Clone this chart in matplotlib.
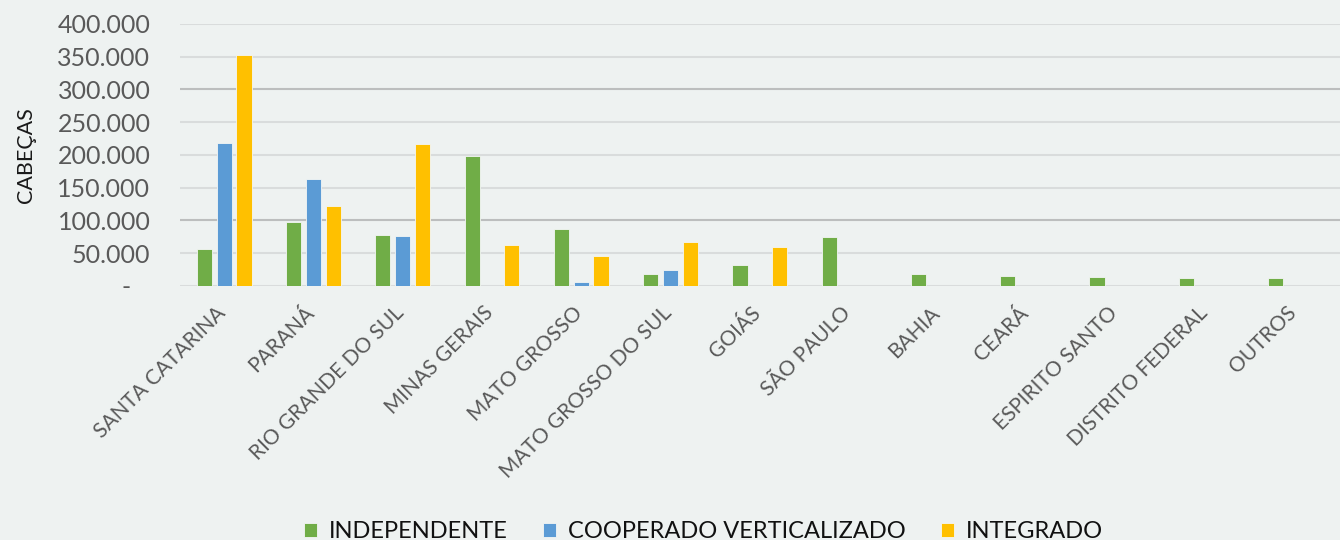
import matplotlib.pyplot as plt
import matplotlib.transforms as mtrans
import numpy as np

estados = ['SANTA CATARINA', 'PARANÁ', 'RIO GRANDE DO SUL', 'MINAS GERAIS', 'MATO GROSSO',
           'MATO GROSSO DO SUL', 'GOIÁS', 'SÃO PAULO', 'BAHIA', 'CEARÁ', 'ESPIRITO SANTO',
           'DISTRITO FEDERAL', 'OUTROS']
independente = [56500, 97000, 78000, 198500, 86500, 19000, 32500, 75000, 18600, 15000, 13000, 11500, 11500]
cooperado = [219000, 163000, 76000, 0, 6600, 24400, 0, 0, 0, 0, 0, 0, 0]
integrado = [352700, 122000, 217000, 62000, 46000, 66700, 60000, 0, 0, 0, 0, 0, 0]

bg = '#eef2f1'
plt.rcParams['font.family'] = ['Lato', 'DejaVu Sans']

fig = plt.figure(figsize=(13.4, 5.4), dpi=100, facecolor=bg)
ax = fig.add_axes([0.134, 0.4704, 0.866, 0.4852], facecolor=bg)

x = np.arange(len(estados))
w = 0.17
off = 0.222
series = [(independente, '#70ad47', 'INDEPENDENTE'),
          (cooperado, '#5b9bd5', 'COOPERADO VERTICALIZADO'),
          (integrado, '#ffc000', 'INTEGRADO')]
for i, (vals, cor, nome) in enumerate(series):
    ax.bar(x + (i - 1) * off, vals, width=w, color=cor, edgecolor='#f4f6f5',
           linewidth=0.6, label=nome, zorder=3)

ax.set_xlim(-0.5, len(estados) - 0.5)
ax.set_ylim(0, 400000)
ticks = np.arange(0, 400001, 50000)
ax.set_yticks(ticks)
ax.set_yticklabels(['-   '] + [f'{t // 1000}.000' for t in ticks[1:]])
ax.tick_params(axis='y', length=0, labelsize=18, labelcolor='#595959', pad=21)
for t in ticks:
    c = '#bcbebe' if t in (100000, 300000) else '#d9dcdc'
    ax.axhline(t, color=c, linewidth=1.5, zorder=1)

ax.set_xticks(x)
ax.set_xticklabels(estados, rotation=45, ha='right', rotation_mode='anchor')
ax.tick_params(axis='x', length=0, labelsize=15, labelcolor='#595959', pad=12)
shift = mtrans.ScaledTranslation(-9 / 100, 0, fig.dpi_scale_trans)
for lbl in ax.get_xticklabels():
    lbl.set_transform(lbl.get_transform() + shift)

for s in ax.spines.values():
    s.set_visible(False)

ax.set_ylabel('CABEÇAS', fontsize=15.5, color='#1a1a1a')
ax.yaxis.set_label_coords(-0.124, 0.5)

fig.legend(loc='lower center', bbox_to_anchor=(0.525, -0.043), ncol=3, frameon=False,
           fontsize=17, handlelength=0.55, handleheight=0.55, handletextpad=0.5,
           columnspacing=1.5, labelcolor='#111111')

fig.savefig('out.png', dpi=100, facecolor=bg)
